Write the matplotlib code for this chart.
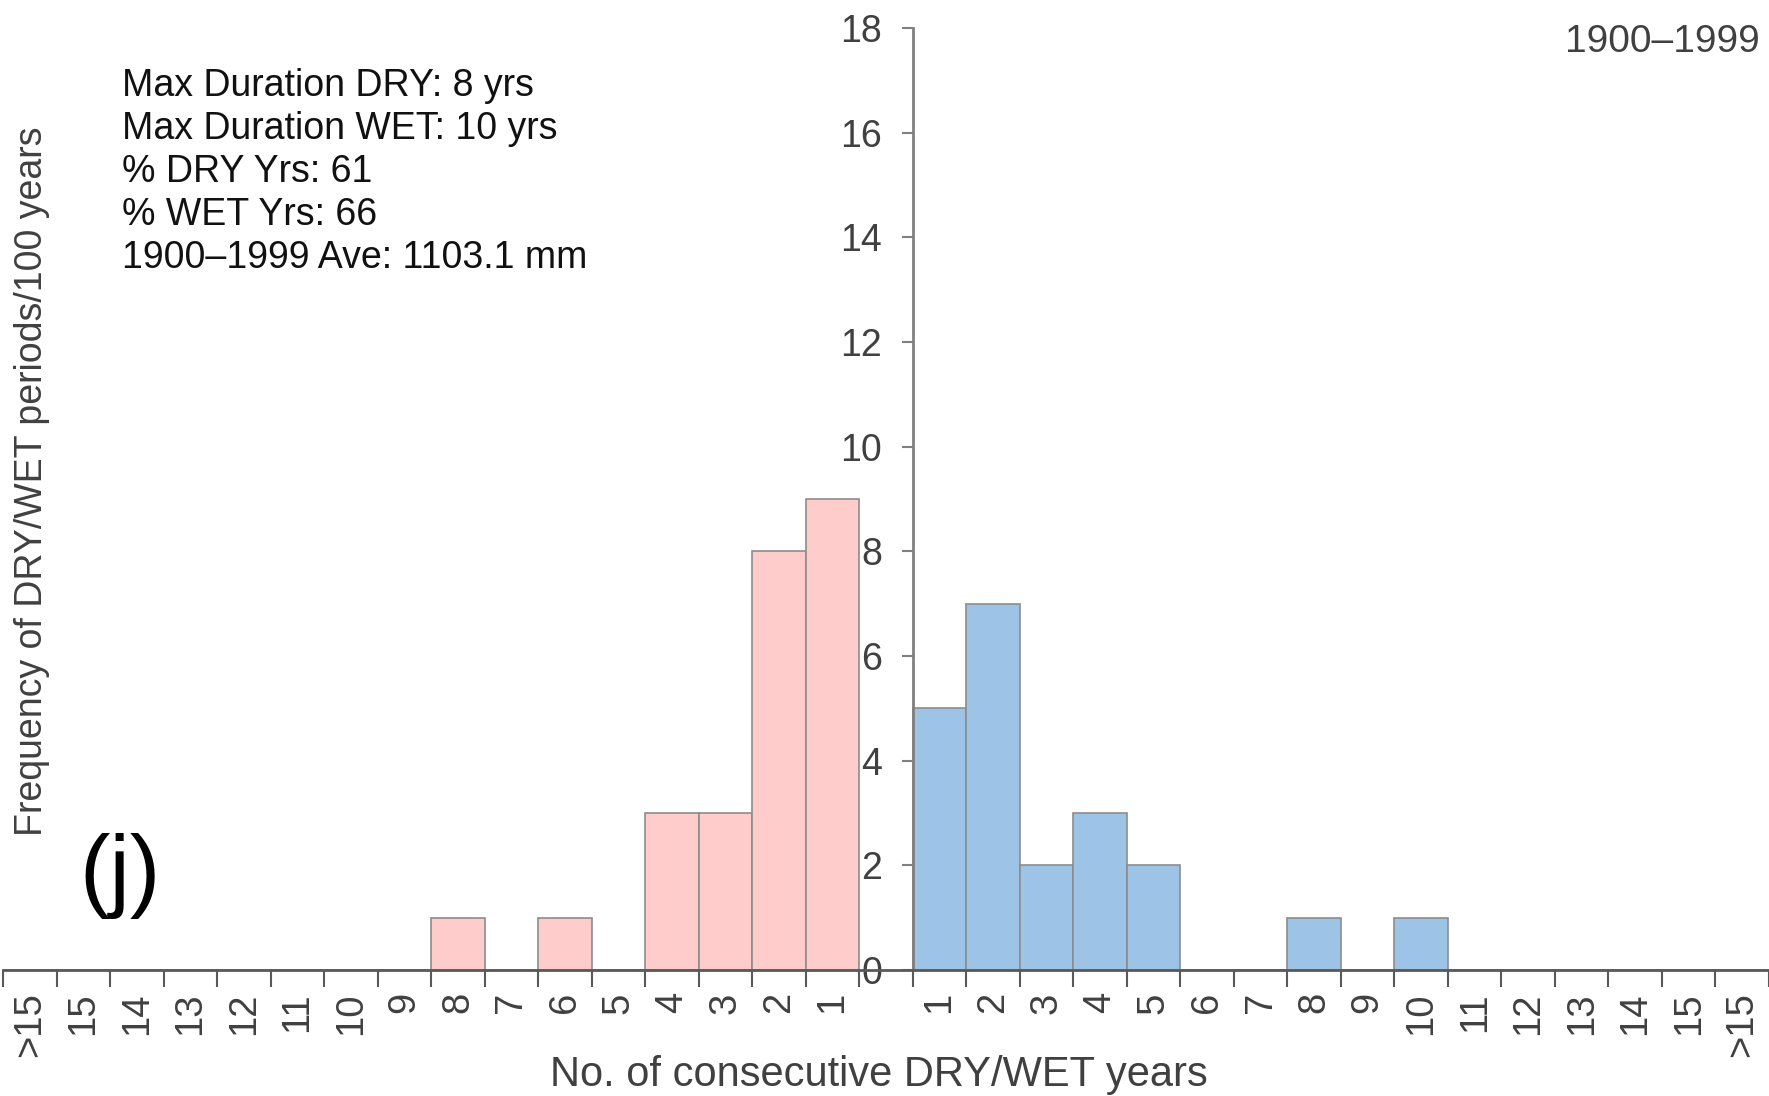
import matplotlib.pyplot as plt
import numpy as np

plt.rcParams['font.family'] = ['Liberation Sans', 'DejaVu Sans']

# categories: dry side (>15 .. 1), empty centre slot, wet side (1 .. >15)
dry_labels = ['>15', '15', '14', '13', '12', '11', '10', '9', '8', '7', '6', '5', '4', '3', '2', '1']
wet_labels = ['1', '2', '3', '4', '5', '6', '7', '8', '9', '10', '11', '12', '13', '14', '15', '>15']
dry_freq = [0, 0, 0, 0, 0, 0, 0, 0, 1, 0, 1, 0, 3, 3, 8, 9]
wet_freq = [5, 7, 2, 3, 2, 0, 0, 1, 0, 1, 0, 0, 0, 0, 0, 0]
stats = ['Max Duration DRY: 8 yrs', 'Max Duration WET: 10 yrs', '% DRY Yrs: 61',
         '% WET Yrs: 66', '1900\u20131999 Ave: 1103.1 mm']

fig = plt.figure(figsize=(17.69, 10.96), dpi=100)
ax = fig.add_axes([3 / 1769, 126 / 1096, 1766 / 1769, 942 / 1096])

n_dry = len(dry_labels)
x_dry = np.arange(n_dry)
x_wet = np.arange(len(wet_labels)) + n_dry + 1
ax.bar(x_dry, dry_freq, width=1, color='#ffcccc', edgecolor='#8c8c8c', linewidth=1.2)
ax.bar(x_wet, wet_freq, width=1, color='#9dc3e6', edgecolor='#8c8c8c', linewidth=1.2)

ax.set_xlim(-0.5, x_wet[-1] + 0.5)
ax.set_ylim(0, 18)

for s in ['top', 'right']:
    ax.spines[s].set_visible(False)
ax.spines['left'].set_position(('data', n_dry + 0.5))
ax.spines['left'].set_color('#808080')
ax.spines['bottom'].set_color('#595959')
ax.spines['left'].set_linewidth(2)
ax.spines['bottom'].set_linewidth(2)

ax.set_yticks(np.arange(0, 19, 2))
ax.tick_params(axis='y', direction='out', length=8, width=1.5, color='#808080',
               labelsize=27, labelcolor='#404040', pad=14)

# tick marks on slot boundaries, labels at slot centres
ax.set_xticks(np.arange(-0.5, x_wet[-1] + 1, 1))
ax.set_xticklabels([])
ax.set_xticks(list(x_dry) + [n_dry] + list(x_wet), minor=True)
ax.set_xticklabels(dry_labels + [''] + wet_labels, minor=True, rotation=90, va='top')
ax.tick_params(axis='x', which='major', direction='out', length=12, width=1.5, color='#595959')
ax.tick_params(axis='x', which='minor', length=0, labelsize=27.5, labelcolor='#404040', pad=16)

ax.set_xlabel('No. of consecutive DRY/WET years', fontsize=30, color='#404040')
ax.xaxis.set_label_coords(0.496, -0.09)
fig.text(32 / 1769, 1 - 481 / 1096, 'Frequency of DRY/WET periods/100 years', rotation=90,
         fontsize=27, color='#404040', ha='center', va='center')

for i, line in enumerate(stats):
    fig.text(122 / 1769, 1 - (86 + 43 * i) / 1096, line, fontsize=27, color='#111111',
             ha='left', va='center')
fig.text(1760 / 1769, 1 - 42 / 1096, '1900\u20131999', fontsize=28, color='#404040',
         ha='right', va='center')
fig.text(120 / 1769, 1 - 876 / 1096, '(j)', fontsize=66, color='#000000',
         ha='center', va='center')

fig.savefig('out.png', dpi=100)
